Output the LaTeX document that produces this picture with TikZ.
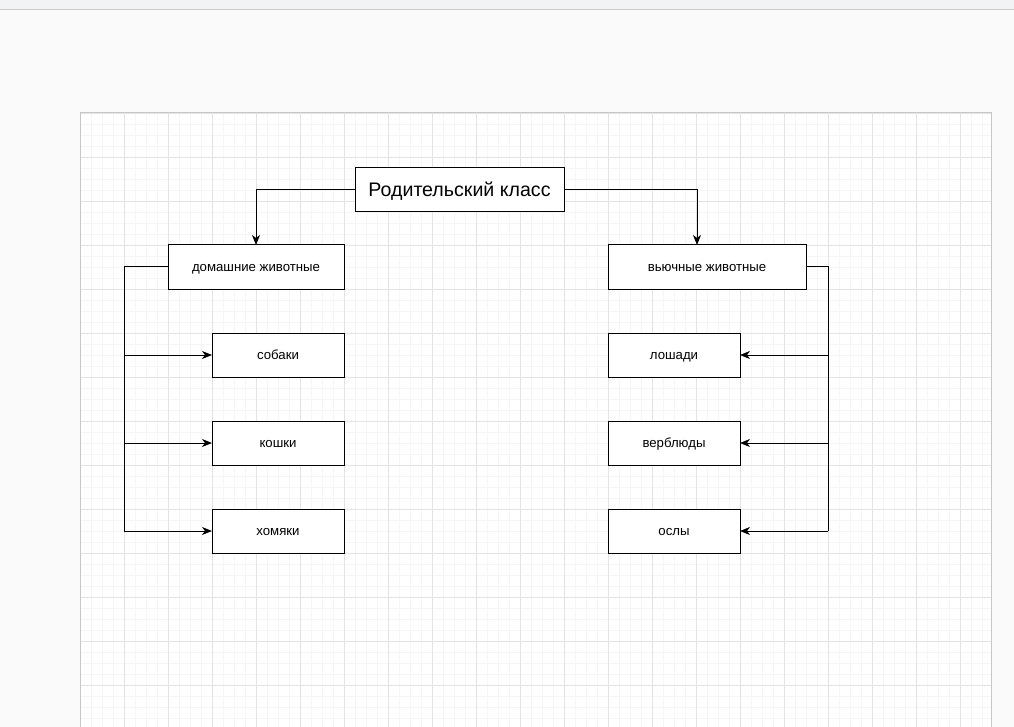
\documentclass[tikz,border=0pt]{standalone}
\usepackage{fontspec}
\setmainfont{Liberation Sans}
\usetikzlibrary{positioning,arrows.meta}
\definecolor{canvasbg}{HTML}{FAFAFA}
\definecolor{topbar}{HTML}{F1F3F4}

\begin{document}
\begin{tikzpicture}[x=1pt,y=-1pt]
	\tikzset{
		classbox/.style={rectangle, draw=black, fill=white, line width=1pt, inner sep=0pt, outer sep=0pt, minimum height=44pt, text height=9.5pt, text depth=0.6pt, text centered, font=\fontsize{13.2}{15}\selectfont},
		parentbox/.style={classbox, minimum width=209pt, text height=14.5pt, text depth=1.8pt, font=\fontsize{19.6}{22}\selectfont},
		myarrow/.style={-{Stealth[length=10pt,width=8pt,inset=3pt]}, line width=1pt},
		myline/.style={line width=1pt},
		minorgrid/.style={draw=black!3.5, line width=0.6pt},
		majorgrid/.style={draw=black!11, line width=0.8pt}
	}
	\useasboundingbox (0,0) rectangle (1014,727);
	% canvas and page
	\fill[canvasbg] (0,0) rectangle (1014,727);
	\fill[topbar] (0,0) rectangle (1014,9);
	\draw[black!20] (0,9.5) -- (1014,9.5);
	\fill[white] (80,112) rectangle (991,727);
	\foreach \x in {80,91,...,991} \draw[minorgrid] (\x,113) -- (\x,727);
	\foreach \y in {113,124,...,727} \draw[minorgrid] (80,\y) -- (991,\y);
	\foreach \x in {80,124,...,991} \draw[majorgrid] (\x,113) -- (\x,727);
	\foreach \y in {113,157,...,727} \draw[majorgrid] (80,\y) -- (991,\y);
	\draw[black!22] (80,727) -- (80,112) -- (991,112) -- (991,727);

	% classes
	\node[parentbox] (parent) at (459.5,190) {Родительский класс};
	\node[classbox, minimum width=176pt] (dom) at (256,267) {домашние животные};
	\node[classbox, minimum width=198pt] (vyu) at (707,267) {вьючные животные};
	\node[classbox, minimum width=132pt, below=44pt of dom.south east, anchor=north east] (sob) {собаки};
	\node[classbox, minimum width=132pt, below=44pt of sob] (kosh) {кошки};
	\node[classbox, minimum width=132pt, below=44pt of kosh] (ham) {хомяки};
	\node[classbox, minimum width=132pt, below=44pt of vyu.south west, anchor=north west] (losh) {лошади};
	\node[classbox, minimum width=132pt, below=44pt of losh] (verb) {верблюды};
	\node[classbox, minimum width=132pt, below=44pt of verb] (osl) {ослы};

	% connectors
	\draw[myarrow] (parent.west) -| (dom.north);
	\draw[myarrow] (parent.east) -| ([xshift=-10pt]vyu.north);
	\coordinate (leftbus) at (124,267);
	\coordinate (rightbus) at (828,267);
	\draw[myline] (dom.west) -- (leftbus) -- (leftbus |- ham.west);
	\draw[myline] (vyu.east) -- (rightbus) -- (rightbus |- osl.east);
	\foreach \n in {sob,kosh,ham} \draw[myarrow] (leftbus |- \n.west) -- (\n.west);
	\foreach \n in {losh,verb,osl} \draw[myarrow] (rightbus |- \n.east) -- (\n.east);
\end{tikzpicture}
\end{document}
